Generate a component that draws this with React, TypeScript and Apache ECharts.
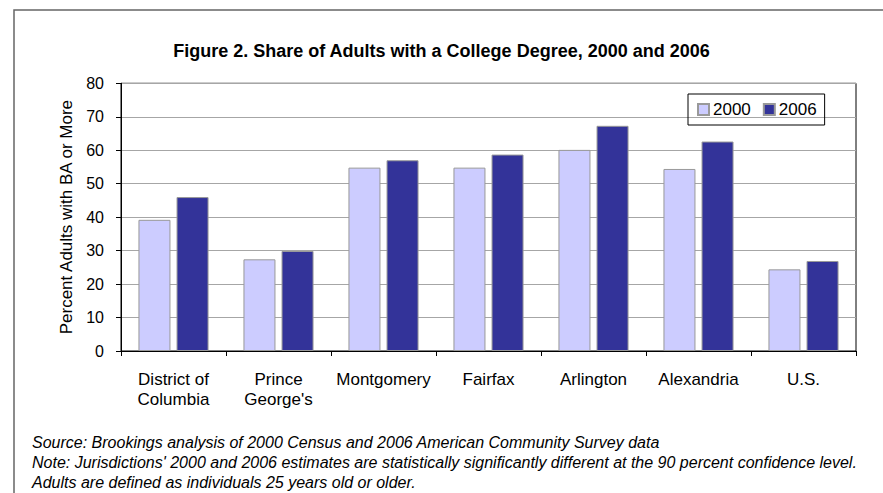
import React, { useEffect, useRef } from "react";
import * as echarts from "echarts";

const categories = ["District of\nColumbia", "Prince\nGeorge's", "Montgomery", "Fairfax", "Arlington", "Alexandria", "U.S."];
const values2000 = [39.2, 27.4, 54.8, 54.8, 60.1, 54.4, 24.4];
const values2006 = [46.0, 29.9, 57.0, 58.7, 67.3, 62.6, 26.9];
const seriesNames = ["2000", "2006"];
const titleText = "Figure 2. Share of Adults with a College Degree, 2000 and 2006";
const yAxisName = "Percent Adults with BA or More";
const notes = [
  "Source: Brookings analysis of 2000 Census and 2006 American Community Survey data",
  "Note: Jurisdictions' 2000 and 2006 estimates are statistically significantly different at the 90 percent confidence level.",
  "Adults are defined as individuals 25 years old or older.",
];

const FONT = "'Liberation Sans', Arial, sans-serif";

export default function App() {
  const ref = useRef<HTMLDivElement>(null);
  useEffect(() => {
    if (!ref.current) return;
    const chart = echarts.init(ref.current, undefined, { renderer: "svg" });
    chart.setOption({
      animation: false,
      backgroundColor: "#ffffff",
      textStyle: { fontFamily: FONT, color: "#000" },
      title: {
        text: titleText,
        left: "center",
        top: 37,
        textStyle: { fontFamily: FONT, fontSize: 18, fontWeight: "bold", color: "#000" },
      },
      legend: {
        data: seriesNames,
        left: 688,
        top: 94,
        orient: "horizontal",
        padding: [7, 8, 7, 9],
        itemWidth: 11,
        itemHeight: 11,
        itemGap: 12,
        borderColor: "#000",
        borderWidth: 1,
        icon: "rect",
        textStyle: { fontFamily: FONT, fontSize: 17, color: "#000", padding: [0, 0, 0, -1] },
      },
      grid: {
        left: 121,
        right: 27,
        top: 83.3,
        bottom: 142,
        show: true,
        borderColor: "#000",
        borderWidth: 1,
        containLabel: false,
      },
      xAxis: {
        type: "category",
        data: categories,
        axisLine: { lineStyle: { color: "#000", width: 1 } },
        axisTick: { show: true, length: 5, lineStyle: { color: "#000" } },
        axisLabel: {
          fontFamily: FONT,
          fontSize: 17,
          color: "#000",
          margin: 18,
          lineHeight: 20,
          interval: 0,
        },
      },
      yAxis: {
        type: "value",
        min: 0,
        max: 80,
        interval: 10,
        name: yAxisName,
        nameLocation: "middle",
        nameGap: 21,
        nameTextStyle: { fontFamily: FONT, fontSize: 17, color: "#000" },
        axisLine: { show: true, lineStyle: { color: "#000", width: 1 } },
        axisTick: { show: true, length: 5, lineStyle: { color: "#000" } },
        axisLabel: { fontFamily: FONT, fontSize: 16, color: "#000", margin: 17 },
        splitLine: { show: true, lineStyle: { color: "#a6a6a6", width: 1 } },
      },
      series: [
        {
          name: seriesNames[0],
          type: "bar",
          data: values2000,
          barWidth: 32,
          barGap: "19%",
          itemStyle: { color: "#ccccff", borderColor: "#999999", borderWidth: 1 },
        },
        {
          name: seriesNames[1],
          type: "bar",
          data: values2006,
          barWidth: 32,
          barGap: "19%",
          itemStyle: { color: "#333399", borderColor: "#999999", borderWidth: 1 },
        },
      ],
      graphic: [
        {
          type: "rect",
          shape: { x: 14, y: 10, width: 880, height: 495 },
          style: { fill: "none", stroke: "#666666", lineWidth: 1.5 },
          silent: true,
        },
        ...notes.map((t, i) => ({
          type: "text",
          x: 32,
          y: 442 + i * 20,
          style: {
            text: t,
            fill: "#000",
            font: `italic 16px ${FONT}`,
            textVerticalAlign: "middle",
            verticalAlign: "middle",
          },
        })),
      ],
    });
    return () => chart.dispose();
  }, []);
  return (
    <div
      ref={ref}
      style={{ position: "absolute", left: 0, top: 0, width: 883, height: 493 }}
    />
  );
}
